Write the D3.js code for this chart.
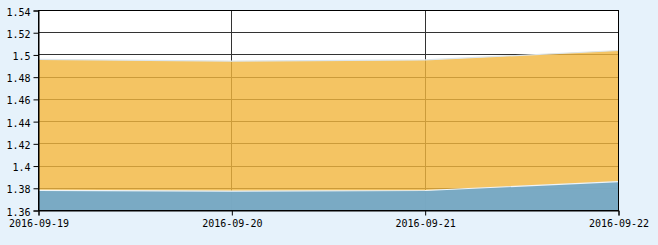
<!doctype html>
<html>
<head>
<meta charset="utf-8">
<title>chart</title>
<script src="https://d3js.org/d3.v7.min.js"></script>
<style>
body{margin:0;background:#e6f2fb;}
text{font-family:"DejaVu Sans Mono","Liberation Mono",monospace;font-size:10px;fill:#000;}
</style>
</head>
<body>
<script>
var dates = ["2016-09-19","2016-09-20","2016-09-21","2016-09-22"];
var seriesA = [1.496, 1.4945, 1.4955, 1.504];   // orange
var seriesB = [1.3782, 1.3775, 1.378, 1.386];   // blue
var yTicks = [1.36,1.38,1.4,1.42,1.44,1.46,1.48,1.5,1.52,1.54];

var width = 658, height = 245;
var pL = 38.5, pR = 618.5, pT = 10.5, pB = 210.5;

var svg = d3.select("body").append("svg")
    .attr("width", width)
    .attr("height", height);

var x = d3.scalePoint().domain(dates).range([pL, pR]);
var y = d3.scaleLinear().domain([1.36, 1.54]).range([pB, pT]);

// plot background
svg.append("rect")
    .attr("x", pL).attr("y", pT)
    .attr("width", pR - pL).attr("height", pB - pT)
    .attr("fill", "#fff");

// grid
svg.append("g").selectAll("line").data(yTicks.slice(1, -1)).enter()
    .append("line")
    .attr("x1", pL).attr("x2", pR)
    .attr("y1", function(d){return Math.round(y(d) - 0.5) + 0.5;})
    .attr("y2", function(d){return Math.round(y(d) - 0.5) + 0.5;})
    .attr("stroke", "#333");
svg.append("g").selectAll("line").data(dates.slice(1, -1)).enter()
    .append("line")
    .attr("y1", pT).attr("y2", pB)
    .attr("x1", function(d){return Math.round(x(d) - 0.5) + 0.5;})
    .attr("x2", function(d){return Math.round(x(d) - 0.5) + 0.5;})
    .attr("stroke", "#333");

var area = function(vals){
  return d3.area()
    .x(function(d, i){return x(dates[i]);})
    .y0(pB)
    .y1(function(d){return y(d);})(vals);
};
var line = function(vals){
  return d3.line()
    .x(function(d, i){return x(dates[i]);})
    .y(function(d){return y(d);})(vals);
};

svg.append("path").attr("d", area(seriesA))
    .attr("fill", "#f1b53c").attr("fill-opacity", 0.8);
svg.append("path").attr("d", line(seriesA))
    .attr("fill", "none").attr("stroke", "#dde6ec").attr("stroke-width", 1.2);

svg.append("path").attr("d", area(seriesB))
    .attr("fill", "#75a9c8").attr("fill-opacity", 0.96);
svg.append("path").attr("d", line(seriesB))
    .attr("fill", "none").attr("stroke", "#eef4f8").attr("stroke-width", 1.2);

// frame
svg.append("rect")
    .attr("x", pL).attr("y", pT)
    .attr("width", pR - pL).attr("height", pB - pT)
    .attr("fill", "none").attr("stroke", "#000");

// axes
var yAxis = d3.axisLeft(y).tickValues(yTicks).tickSize(5).tickPadding(3)
    .tickFormat(function(d){return String(+d.toFixed(2));});
var gy = svg.append("g").attr("transform", "translate(" + pL + ",0)").call(yAxis);
var xAxis = d3.axisBottom(x).tickSize(5).tickPadding(4);
var gx = svg.append("g").attr("transform", "translate(0," + pB + ")").call(xAxis);
[gy, gx].forEach(function(g){
  g.select(".domain").attr("stroke", "#000");
  g.selectAll(".tick line").attr("stroke", "#000");
  g.selectAll("text").attr("font-family", null).attr("font-size", null).attr("fill", "#000");
});
gy.selectAll("text").attr("dy", "0.45em");
</script>
</body>
</html>
